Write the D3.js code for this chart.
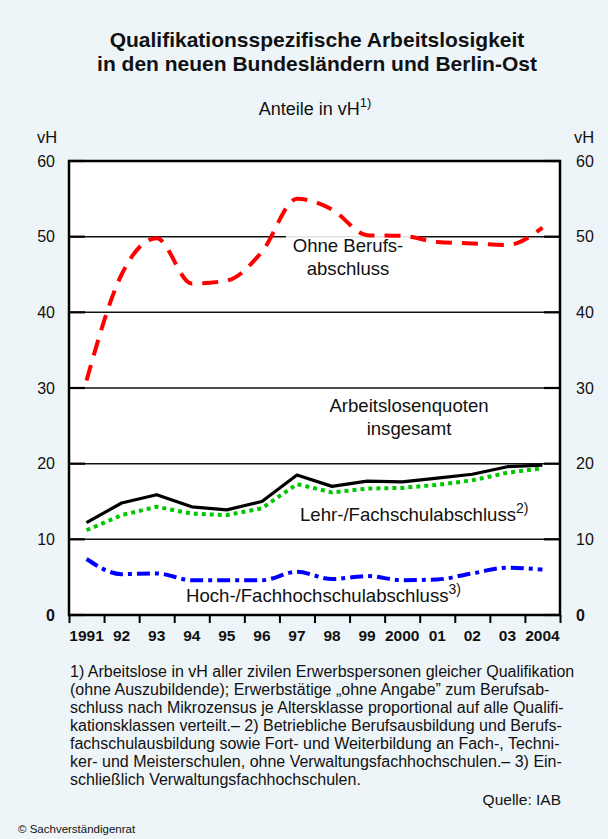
<!DOCTYPE html>
<html><head><meta charset="utf-8">
<script src="https://cdn.jsdelivr.net/npm/d3@7"></script>
<style>
html,body{margin:0;padding:0;background:#EEF5F9;}
svg{display:block;font-family:"Liberation Sans",Arial,sans-serif;}
</style></head>
<body>
<svg id="chart" width="608" height="839"></svg>
<script>
// ---- data ----
const years = [1991,1992,1993,1994,1995,1996,1997,1998,1999,2000,2001,2002,2003,2004];
const yearLabels = ["1991","92","93","94","95","96","97","98","99","2000","01","02","03","2004"];
const ohneBerufsabschluss = [31.0,45.0,49.8,43.8,44.2,48.0,55.0,53.6,50.2,50.1,49.3,49.1,48.9,51.2];
const insgesamt = [12.2,14.8,15.9,14.3,13.9,15.0,18.5,17.0,17.7,17.6,18.1,18.6,19.6,19.8];
const lehrFachschule = [11.2,13.2,14.3,13.4,13.2,14.1,17.3,16.2,16.7,16.8,17.2,17.8,18.8,19.4];
const hochFachhochschule = [7.4,5.4,5.5,4.6,4.6,4.6,5.7,4.75,5.15,4.6,4.7,5.5,6.25,6.0];
const yTicks = [0,10,20,30,40,50,60];
const footnotes = [
 "1) Arbeitslose in vH aller zivilen Erwerbspersonen gleicher Qualifikation",
 "(ohne Auszubildende); Erwerbstätige \u201eohne Angabe\u201d zum Berufsab-",
 "schluss nach Mikrozensus je Altersklasse proportional auf alle Qualifi-",
 "kationsklassen verteilt.\u2013 2) Betriebliche Berufsausbildung und Berufs-",
 "fachschulausbildung sowie Fort- und Weiterbildung an Fach-, Techni-",
 "ker- und Meisterschulen, ohne Verwaltungsfachhochschulen.\u2013 3) Ein-",
 "schließlich Verwaltungsfachhochschulen."
];

const svg = d3.select("#chart");
const L = 69, R = 560, T = 161, B = 615;
const x = d3.scaleLinear().domain([1991, 2005]).range([L, R]);
const xc = yr => x(yr + 0.5);
const y = d3.scaleLinear().domain([0, 60]).range([B, T]);

// title
svg.append("text").attr("x", 317).attr("y", 47).attr("text-anchor","middle")
  .attr("font-size", 21).attr("font-weight","bold").attr("fill","#111")
  .text("Qualifikationsspezifische Arbeitslosigkeit");
svg.append("text").attr("x", 317).attr("y", 71).attr("text-anchor","middle")
  .attr("font-size", 21).attr("font-weight","bold").attr("fill","#111")
  .text("in den neuen Bundesländern und Berlin-Ost");
const sub = svg.append("text").attr("x", 315).attr("y", 115).attr("text-anchor","middle")
  .attr("font-size", 18).attr("fill","#111");
sub.append("tspan").text("Anteile in vH");
sub.append("tspan").attr("dy", -8).attr("font-size", 13).text("1)");

// plot background
svg.append("rect").attr("x", L).attr("y", T).attr("width", R - L).attr("height", B - T).attr("fill", "#fff");

// grid lines
const g = svg.append("g");
g.selectAll("line.grid").data(yTicks.filter(d => d > 0 && d < 60)).join("line")
  .attr("x1", L).attr("x2", R).attr("y1", d => y(d)).attr("y2", d => y(d))
  .attr("stroke", "#111").attr("stroke-width", 1.5);
g.selectAll("line.tl").data(yTicks).join("line")
  .attr("x1", L).attr("x2", L + 16).attr("y1", d => y(d)).attr("y2", d => y(d))
  .attr("stroke", "#000").attr("stroke-width", 2.2);
g.selectAll("line.tr").data(yTicks).join("line").attr("class","tr")
  .attr("x1", R - 16).attr("x2", R).attr("y1", d => y(d)).attr("y2", d => y(d))
  .attr("stroke", "#000").attr("stroke-width", 2.2);

// label background for "Ohne Berufs-"
svg.append("rect").attr("x", 286).attr("y", y(50) - 1).attr("width", 132).attr("height", 44)
  .attr("fill", "#fff").attr("fill-opacity", 0.88);

// border
svg.append("rect").attr("x", L).attr("y", T).attr("width", R - L).attr("height", B - T)
  .attr("fill", "none").attr("stroke", "#000").attr("stroke-width", 2.5);

// x axis ticks
const xAxis = d3.axisBottom(x).tickValues(d3.range(1991, 2006)).tickFormat("").tickSize(8).tickSizeOuter(0);
const xa = svg.append("g").attr("transform", `translate(0,${B})`).call(xAxis);
xa.select(".domain").remove();
xa.selectAll(".tick line").attr("stroke", "#000").attr("stroke-width", 2);
svg.append("g").selectAll("text").data(years).join("text")
  .attr("x", d => xc(d)).attr("y", 641).attr("text-anchor", "middle")
  .attr("font-size", 15.5).attr("font-weight", "bold").attr("fill", "#111")
  .text((d, i) => yearLabels[i]);

// y labels
svg.append("g").selectAll("text").data(yTicks).join("text")
  .attr("x", 55).attr("y", d => y(d) + 5.5).attr("text-anchor", "end")
  .attr("font-size", 16).attr("font-weight", d => d === 0 ? "bold" : "normal").attr("fill", "#111")
  .text(d => d);
svg.append("g").selectAll("text").data(yTicks).join("text")
  .attr("x", 576).attr("y", d => y(d) + 5.5).attr("text-anchor", "start")
  .attr("font-size", 16).attr("font-weight", d => d === 0 ? "bold" : "normal").attr("fill", "#111")
  .text(d => d);
svg.append("text").attr("x", 37).attr("y", 143).attr("font-size", 16.5).attr("fill", "#111").text("vH");
svg.append("text").attr("x", 574).attr("y", 143).attr("font-size", 16.5).attr("fill", "#111").text("vH");

// lines
const lineSmooth = d3.line().x((d, i) => xc(years[i])).y(d => y(d)).curve(d3.curveMonotoneX);
const lineStraight = d3.line().x((d, i) => xc(years[i])).y(d => y(d));
svg.append("path").attr("d", lineSmooth(hochFachhochschule)).attr("fill", "none")
  .attr("stroke", "#0000FF").attr("stroke-width", 4).attr("stroke-dasharray", "13,5,4,5");
svg.append("path").attr("d", lineStraight(lehrFachschule)).attr("fill", "none")
  .attr("stroke", "#00C800").attr("stroke-width", 4).attr("stroke-dasharray", "4,4");
svg.append("path").attr("d", lineStraight(insgesamt)).attr("fill", "none")
  .attr("stroke", "#000").attr("stroke-width", 3.2).attr("stroke-linejoin", "round");
svg.append("path").attr("d", lineSmooth(ohneBerufsabschluss)).attr("fill", "none")
  .attr("stroke", "#FF0000").attr("stroke-width", 4).attr("stroke-dasharray", "16,10");

// series labels
const LF = 18.6;
function label(xp, yp, lines, anchor) {
  lines.forEach((l, i) => {
    svg.append("text").attr("x", xp).attr("y", yp + i * 22.5).attr("text-anchor", anchor)
      .attr("font-size", LF).attr("fill", "#111").text(l);
  });
}
label(348, 252, ["Ohne Berufs-", "abschluss"], "middle");
label(409, 412, ["Arbeitslosenquoten", "insgesamt"], "middle");
const t2 = svg.append("text").attr("x", 300).attr("y", 521).attr("font-size", LF).attr("fill", "#111");
t2.append("tspan").text("Lehr-/Fachschulabschluss");
t2.append("tspan").attr("dy", -8).attr("font-size", 14).text("2)");
const t3 = svg.append("text").attr("x", 186).attr("y", 602).attr("font-size", LF).attr("fill", "#111");
t3.append("tspan").text("Hoch-/Fachhochschulabschluss");
t3.append("tspan").attr("dy", -8).attr("font-size", 14).text("3)");

// footnotes
svg.append("g").selectAll("text").data(footnotes).join("text")
  .attr("x", 70).attr("y", (d, i) => 677 + i * 18)
  .attr("font-size", 16).attr("fill", "#111").text(d => d);
svg.append("text").attr("x", 561).attr("y", 805).attr("text-anchor", "end")
  .attr("font-size", 15.5).attr("fill", "#111").text("Quelle: IAB");
svg.append("text").attr("x", 18).attr("y", 833)
  .attr("font-size", 11.5).attr("fill", "#111").text("© Sachverständigenrat");
</script>
</body></html>
